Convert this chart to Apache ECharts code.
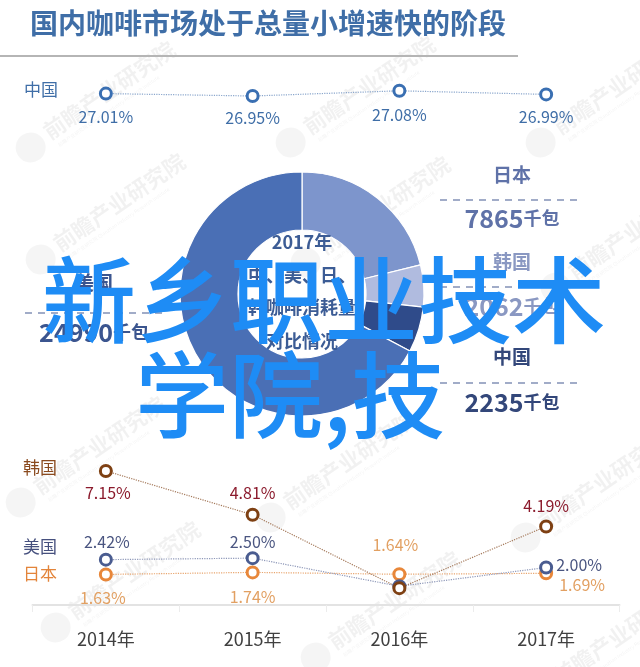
<!DOCTYPE html>
<html><head><meta charset="utf-8">
<script src="https://cdn.jsdelivr.net/npm/echarts/dist/echarts.min.js"></script>
<style>html,body{margin:0;padding:0;background:#fff}#c{width:640px;height:667px}</style>
</head><body><div id="c"></div>
<script>
// ---- data ----
const years = ['2014年', '2015年', '2016年', '2017年'];
const chinaShare = [27.01, 26.95, 27.08, 26.99];
const koreaGrowth = [7.15, 4.81, 0.90, 4.19];
const usGrowth = [2.42, 2.50, 1.00, 2.00];
const japanGrowth = [1.63, 1.74, 1.64, 1.69];
const pieNames = ['日本', '韩国', '中国', '美国'];
const pieValues = [7865, 2062, 2235, 24990];
const pieUnit = '千包';
const titleText = '国内咖啡市场处于总量小增速快的阶段';
const centerLines = ['2017年', '中、美、日、', '韩咖啡消耗量', '对比情况'];
const overlayLines = ['新乡职业技术', '学院,技'];
const watermarkText = '前瞻产业研究院';

// ---- styles ----
const FONT = '"Noto Sans CJK SC", "Noto Sans", sans-serif';
const pieColors = ['#7d95cc', '#b0bbdf', '#2f4b8a', '#4a6fb5'];
const pieLabelColors = ['#5f72a8', '#8a98c2', '#33477a', '#3b558f'];
const pieLabelPos = [[512, 175, 200, 218, 440, 583], [512, 262, 287, 306, 440, 583], [512, 357, 383, 402, 440, 583], [94, 283, 313, 332, 25, 168]];
const wmPos = [[100, 100], [360, 95], [610, 95], [110, 212], [375, 215], [625, 240], [340, 470], [595, 490], [125, 580], [385, 610], [610, 645], [90, 455]];

function fmt(v) { return v.toFixed(2) + '%'; }
function items(vals, offsets, hidden) {
  return vals.map((v, i) => ({ value: v, label: { show: !hidden.includes(i), offset: offsets[i] } }));
}
function lineSeries(name, vals, color, lineColor, labelColor, offsets, hidden, xi, yi, size) {
  return {
    name, type: 'line', xAxisIndex: xi, yAxisIndex: yi,
    data: items(vals, offsets, hidden),
    symbol: 'circle', symbolSize: size || 11,
    itemStyle: { color: '#fff', borderColor: color, borderWidth: 3 },
    lineStyle: { color: lineColor, width: 1.2, type: 'dotted' },
    label: { show: true, position: 'inside', color: labelColor, fontSize: 16, fontFamily: FONT,
      formatter: p => fmt(p.value) },
    z: 5, silent: true
  };
}

const graphics = [];
// watermarks
wmPos.forEach(([x, y]) => {
  graphics.push({ type: 'group', x, y, rotation: 0.6, z: -10, silent: true, children: [
    { type: 'circle', shape: { cx: -84, cy: 0, r: 15 }, style: { fill: 'rgba(0,0,0,0.04)' } },
    { type: 'text', x: -64, y: -3, style: { text: watermarkText, font: 'bold 22px ' + FONT, fill: 'rgba(0,0,0,0.055)', verticalAlign: 'middle' } },
    { type: 'text', x: -60, y: 14, style: { text: '前瞻产业研究院 Qianzhan Industry Research Institute', font: '5px ' + FONT, fill: 'rgba(0,0,0,0.05)', verticalAlign: 'middle' } }
  ] });
});
// title
graphics.push({ type: 'text', left: 30, top: 9, style: { text: titleText, font: 'bold 28px ' + FONT, fill: '#3f6ea7' } });
graphics.push({ type: 'line', shape: { x1: 0, y1: 56, x2: 518, y2: 56 }, style: { stroke: '#b5b5b5', lineWidth: 2 } });
// row labels
graphics.push({ type: 'text', x: 41, y: 90, style: { text: '中国', font: '17px ' + FONT, fill: '#3f6ea7', align: 'center', verticalAlign: 'middle' } });
graphics.push({ type: 'text', x: 40, y: 468, style: { text: '韩国', font: '17px ' + FONT, fill: '#8a4a1e', align: 'center', verticalAlign: 'middle' } });
graphics.push({ type: 'text', x: 40, y: 547, style: { text: '美国', font: '17px ' + FONT, fill: '#46507e', align: 'center', verticalAlign: 'middle' } });
graphics.push({ type: 'text', x: 40, y: 574, style: { text: '日本', font: '17px ' + FONT, fill: '#e3843a', align: 'center', verticalAlign: 'middle' } });
// pie labels
pieNames.forEach((n, i) => {
  const [cx, ly, dy, ny, x1, x2] = pieLabelPos[i];
  const c = pieLabelColors[i];
  graphics.push({ type: 'text', x: cx, y: ly, style: { text: n, font: 'bold 19px ' + FONT, fill: c, align: 'center', verticalAlign: 'middle' } });
  graphics.push({ type: 'line', shape: { x1, y1: dy, x2, y2: dy }, style: { stroke: '#8391b6', lineWidth: 1.6, lineDash: [7, 6] } });
  graphics.push({ type: 'text', x: cx, y: ny, style: {
    text: '{a|' + pieValues[i] + '}{b|' + pieUnit + '}', align: 'center', verticalAlign: 'middle',
    rich: { a: { font: 'bold 25px ' + FONT, fill: c }, b: { font: 'bold 18px ' + FONT, fill: c } } } });
});
// pie center text
const centerY = [242, 275, 307, 341];
centerLines.forEach((t, i) => {
  graphics.push({ type: 'text', x: 302, y: centerY[i], z: 10, style: { text: t, font: 'bold 18px ' + FONT, fill: '#3c5c95', align: 'center', verticalAlign: 'middle' } });
});
// overlay text
graphics.push({ type: 'text', x: 42, y: 300, z: 100, style: { text: overlayLines[0], font: '500 94px ' + FONT, fill: '#1e8cf5', verticalAlign: 'middle' } });
graphics.push({ type: 'text', x: 135, y: 395, z: 100, style: { text: overlayLines[1], font: '500 94px ' + FONT, fill: '#1e8cf5', verticalAlign: 'middle' } });

const option = {
  animation: false,
  backgroundColor: '#fff',
  grid: [
    { left: 32.5, right: 20.5, top: 74, height: 40 },
    { left: 32.5, right: 20.5, top: 455, height: 150 }
  ],
  xAxis: [
    { type: 'category', gridIndex: 0, data: years, show: false },
    { type: 'category', gridIndex: 1, data: years,
      axisLine: { lineStyle: { color: '#e3e3e3', width: 2 } },
      axisTick: { show: true, length: 7, lineStyle: { color: '#ececec' } },
      axisLabel: { fontSize: 18, color: '#404040', margin: 25, fontFamily: FONT } }
  ],
  yAxis: [
    { type: 'value', gridIndex: 0, min: 26.5, max: 27.5, show: false },
    { type: 'value', gridIndex: 1, min: 0, max: 8, show: false }
  ],
  series: [
    lineSeries('中国', chinaShare, '#3a6fb2', '#8aa6cc', '#3f6ea7', [[0, 23], [0, 22], [0, 24], [0, 23]], [], 0, 0, 11),
    lineSeries('日本', japanGrowth, '#e8873a', '#e8a56e', '#e2a062', [[-3, 23], [0, 25], [-4, -29], [36, 12]], [], 1, 1),
    lineSeries('美国', usGrowth, '#4a5c90', '#8d97b8', '#4a5580', [[1, -18], [0, -16], [0, 0], [33, -3]], [2], 1, 1),
    lineSeries('韩国', koreaGrowth, '#7e4013', '#a57a5c', '#8b1a2c', [[2, 22], [0, -22], [0, 0], [0, -21]], [2], 1, 1),
    {
      type: 'pie', center: [302, 294], radius: [64, 122], startAngle: 90, clockwise: true,
      silent: true, label: { show: false }, labelLine: { show: false },
      itemStyle: { borderColor: '#fff', borderWidth: 1.2 },
      data: pieNames.map((n, i) => ({ name: n, value: pieValues[i], itemStyle: { color: pieColors[i] } }))
    }
  ],
  graphic: graphics
};
const chart = echarts.init(document.getElementById('c'));
chart.setOption(option);
</script>
</body></html>
